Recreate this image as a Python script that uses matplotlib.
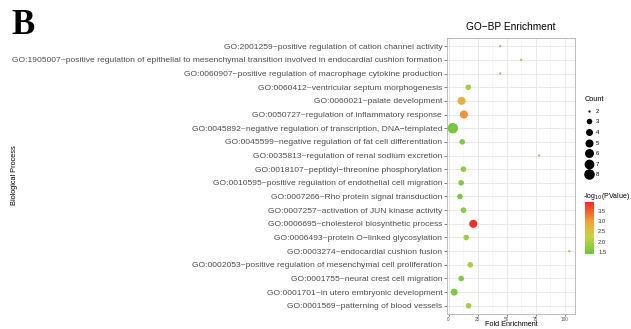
import numpy as np
import matplotlib
matplotlib.use("Agg")
import matplotlib.pyplot as plt
from matplotlib.colors import LinearSegmentedColormap, Normalize
from matplotlib.lines import Line2D

plt.rcParams['font.family'] = ['Liberation Sans', 'DejaVu Sans']

# ---- data (top to bottom) ----
terms = [
    "GO:2001259~positive regulation of cation channel activity",
    "GO:1905007~positive regulation of epithelial to mesenchymal transition involved in endocardial cushion formation",
    "GO:0060907~positive regulation of macrophage cytokine production",
    "GO:0060412~ventricular septum morphogenesis",
    "GO:0060021~palate development",
    "GO:0050727~regulation of inflammatory response",
    "GO:0045892~negative regulation of transcription, DNA\u2212templated",
    "GO:0045599~negative regulation of fat cell differentiation",
    "GO:0035813~regulation of renal sodium excretion",
    "GO:0018107~peptidyl\u2212threonine phosphorylation",
    "GO:0010595~positive regulation of endothelial cell migration",
    "GO:0007266~Rho protein signal transduction",
    "GO:0007257~activation of JUN kinase activity",
    "GO:0006695~cholesterol biosynthetic process",
    "GO:0006493~protein O\u2212linked glycosylation",
    "GO:0003274~endocardial cushion fusion",
    "GO:0002053~positive regulation of mesenchymal cell proliferation",
    "GO:0001755~neural crest cell migration",
    "GO:0001701~in utero embryonic development",
    "GO:0001569~patterning of blood vessels",
]
fold_enrichment = [44.5, 62.4, 44.5, 17.0, 11.2, 13.2, 3.7, 11.8, 77.9, 12.9,
                   10.9, 9.8, 12.9, 21.3, 15.2, 103.7, 18.7, 10.9, 4.9, 17.2]
counts = [2, 2, 2, 3, 5, 5, 8, 3, 2, 3,
          3, 3, 3, 5, 3, 2, 3, 3, 4, 3]
neglog10p = [1.6, 1.8, 1.6, 1.9, 2.8, 3.1, 1.5, 1.6, 1.8, 1.7,
             1.6, 1.55, 1.65, 3.9, 1.85, 1.8, 1.95, 1.6, 1.55, 1.95]
legend_counts = [2, 3, 4, 5, 6, 7, 8]
xticks = [0, 25, 50, 75, 100]
cbar_ticks = [1.5, 2.0, 2.5, 3.0, 3.5]

# ---- styling ----
W, H, DPI = 631, 329, 100
fig = plt.figure(figsize=(W / DPI, H / DPI), dpi=DPI)
px2pt = 72.0 / DPI
cmin, cmax = 2, 8
dmin, dmax = 2.2, 10.5  # diameters in px


def size_of(c):
    c = np.asarray(c, dtype=float)
    d = dmin + (dmax - dmin) * np.sqrt((c - cmin) / (cmax - cmin))
    return d * px2pt


cmap = LinearSegmentedColormap.from_list(
    "grn_red", [(0.0, "#6cc444"), (0.33, "#c6d443"), (0.6, "#f0a73a"), (1.0, "#ee2b2b")])
norm = Normalize(vmin=1.4, vmax=3.94)

left, right, top, bottom = 447, 575, 38, 314
ax = fig.add_axes([left / W, 1 - bottom / H, (right - left) / W, (bottom - top) / H])

n = len(terms)
ypos = np.arange(n)[::-1]
ax.scatter(fold_enrichment, ypos, s=size_of(counts) ** 2, c=neglog10p,
           cmap=cmap, norm=norm, edgecolors='none', zorder=3)

ax.set_ylim(-0.6, n - 1 + 0.6)
ax.set_xlim(-1.3, 108.7)
ax.set_yticks(ypos)
ax.set_yticklabels(terms, fontsize=6.1, color="#4d4d4d")
ax.set_xticks(xticks)
ax.set_xticklabels([str(t) for t in xticks], fontsize=3.4, color="#4d4d4d")
ax.set_xticks([12.5, 37.5, 62.5, 87.5], minor=True)
ax.grid(True, which='major', color="#e6e6e6", linewidth=0.6, zorder=0)
ax.grid(True, which='minor', axis='x', color="#f2f2f2", linewidth=0.4, zorder=0)
ax.set_axisbelow(True)
for s in ax.spines.values():
    s.set_color("#b3b3b3")
    s.set_linewidth(0.6)
ax.tick_params(axis='y', which='major', length=2, width=0.5, color="#4d4d4d", pad=1.5)
ax.tick_params(axis='x', which='major', length=1.5, width=0.5, color="#4d4d4d", pad=0.5)
ax.tick_params(axis='x', which='minor', length=0)

fig.text((left + right) / 2 / W, 0.5 / H, "Fold Enrichment", fontsize=5.2,
         ha='center', va='bottom')
fig.text((left + right) / 2 / W, 1 - 27 / H, "GO\u2212BP Enrichment", fontsize=7.3,
         ha='center', va='center')
fig.text(15 / W, 1 - 175 / H, "Biological Process", fontsize=5.3, rotation=90,
         ha='center', va='center')
fig.text(11 / W, 1 - 25 / H, "B", fontsize=25, fontweight='bold',
         family='Liberation Serif', ha='left', va='center')

# ---- size legend ----
handles = [Line2D([], [], linestyle='none', marker='o', color='black',
                  markersize=float(size_of(c)), markeredgewidth=0) for c in legend_counts]
leg = fig.legend(handles, [str(c) for c in legend_counts], title="Count",
                 loc='upper left', bbox_to_anchor=(581 / W, 1 - 92 / H),
                 frameon=False, fontsize=4.2, title_fontsize=5.3,
                 labelspacing=0.95, handlelength=1.4, handletextpad=0.5,
                 borderpad=0.2, alignment='left')

# ---- colour bar ----
cax = fig.add_axes([585 / W, 1 - 254 / H, 9 / W, 52 / H])
sm = plt.cm.ScalarMappable(cmap=cmap, norm=norm)
cb = fig.colorbar(sm, cax=cax, ticks=cbar_ticks)
cb.outline.set_visible(False)
cb.ax.tick_params(labelsize=4.2, length=0, pad=3, labelcolor="#333333")
cb.ax.set_yticklabels(["%.1f" % t for t in cbar_ticks])
fig.text(583 / W, 1 - 196 / H, r"-log$_{10}$(PValue)", fontsize=5.0, ha='left', va='center')

fig.savefig("out.png", dpi=DPI)
